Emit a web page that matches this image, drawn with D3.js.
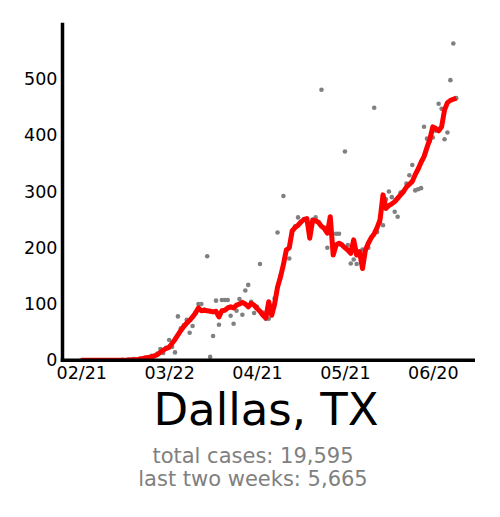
<!DOCTYPE html>
<html>
<head>
<meta charset="utf-8">
<script src="https://cdn.jsdelivr.net/npm/d3@7"></script>
<style>
  html, body { margin: 0; padding: 0; background: #fff; }
  svg { display: block; font-family: "DejaVu Sans", sans-serif; }
</style>
</head>
<body>
<svg id="chart" width="500" height="517"></svg>
<script>
// ---- data ----
const startDate = "2020-02-21";
const dailyCases = [
  0,0,0,0,0,0,0,0,0,0,0,0,0,
  0,1,0,1,0,2,1,3,2,5,4,8,7,12,20,13,22,
  36,24,14,78,57,62,72,49,61,85,
  100,100,90,185,6,43,106,63,107,107,
  107,79,65,88,109,81,124,134,104,84,
  95,171,85,74,74,90,110,227,150,292,
  196,181,230,238,254,245,251,250,218,250,
  254,245,481,236,200,250,190,225,225,205,
  371,205,172,179,171,190,197,196,200,218,
  449,228,245,240,286,300,290,264,255,298,
  300,314,329,347,302,304,306,415,394,390,
  396,408,456,447,393,405,498,563,466
];
const averageCases = [
  0,0,0,0,0,0,0,0,0,0,0,0,0,0,0,0,0.5,1,1,1,2,3,4,5,6,8,10,14,18,21,
  23,30,37,45,53,60,66,71,77,84,
  93,88,89,88,87,86,87,77,88,89,
  93,95,93,98,100,103,100,95,101,98,
  92,87,80,75,104,80,100,130,148,170,
  196,200,230,236,240,246,250,252,217,249,
  248,245,238,234,226,255,187,205,208,205,
  200,196,190,214,187,193,163,196,208,218,
  225,236,250,294,270,275,278,282,288,294,
  300,308,313,318,330,340,352,362,378,393,
  415,412,408,415,445,458,462,464,466
];
const xTickDates = ["2020-02-21", "2020-03-22", "2020-04-21", "2020-05-21", "2020-06-20"];
const yTicks = [0, 100, 200, 300, 400, 500];
const title = "Dallas, TX";
const subtitleLines = ["total cases: 19,595", "last two weeks: 5,665"];

// ---- layout ----
const parse = d3.utcParse("%Y-%m-%d");
const DAY = 24 * 3600 * 1000;
const t0 = parse(startDate);
const dates = dailyCases.map((_, i) => new Date(t0.getTime() + i * DAY));
const nDays = dailyCases.length - 1;
const xPad = nDays * 0.05;

const mLeft = 62.5, mRight = 475, mTop = 22.75, mBottom = 360.25;

const x = d3.scaleUtc()
  .domain([new Date(t0.getTime() - xPad * DAY), new Date(t0.getTime() + (nDays + xPad) * DAY)])
  .range([mLeft, mRight]);
const y = d3.scaleLinear().domain([0, 600]).range([mBottom, mTop]);

const svg = d3.select("#chart");

svg.append("defs").append("clipPath").attr("id", "plotclip")
  .append("rect").attr("x", mLeft).attr("y", mTop)
  .attr("width", mRight - mLeft).attr("height", mBottom - mTop);

const plot = svg.append("g").attr("clip-path", "url(#plotclip)");

plot.selectAll("circle.dot")
  .data(dailyCases)
  .join("circle")
  .attr("class", "dot")
  .attr("cx", (d, i) => x(dates[i]))
  .attr("cy", d => y(d))
  .attr("r", 2.3)
  .attr("fill", "#808080");

plot.append("path")
  .datum(averageCases)
  .attr("fill", "none")
  .attr("stroke", "#ff0000")
  .attr("stroke-width", 5)
  .attr("stroke-linejoin", "round")
  .attr("stroke-linecap", "butt")
  .attr("d", d3.line().x((d, i) => x(dates[i])).y(d => y(d)));

// axes
const xAxis = svg.append("g")
  .attr("transform", `translate(0,${mBottom})`)
  .call(d3.axisBottom(x)
    .tickValues(xTickDates.map(parse))
    .tickFormat(d3.utcFormat("%m/%d"))
    .tickSize(0).tickPadding(6));
xAxis.select(".domain").remove();
xAxis.selectAll("text").attr("font-size", 17.5).attr("fill", "#000")
  .attr("font-family", "DejaVu Sans");

const yAxis = svg.append("g")
  .attr("transform", `translate(${mLeft},0)`)
  .call(d3.axisLeft(y).tickValues(yTicks).tickSize(0).tickPadding(5));
yAxis.select(".domain").remove();
yAxis.selectAll("text").attr("font-size", 17.5).attr("fill", "#000")
  .attr("font-family", "DejaVu Sans");

// spines
svg.append("line").attr("x1", mLeft).attr("x2", mLeft)
  .attr("y1", mTop).attr("y2", mBottom + 1.75)
  .attr("stroke", "#000").attr("stroke-width", 3.5);
svg.append("line").attr("x1", mLeft - 1.75).attr("x2", mRight)
  .attr("y1", mBottom).attr("y2", mBottom)
  .attr("stroke", "#000").attr("stroke-width", 3.5);

// title & subtitle
svg.append("text")
  .attr("x", 266).attr("y", 425)
  .attr("text-anchor", "middle")
  .attr("font-size", 45).attr("fill", "#000")
  .text(title);

svg.selectAll("text.sub")
  .data(subtitleLines)
  .join("text")
  .attr("class", "sub")
  .attr("x", 253)
  .attr("y", (d, i) => 462.7 + i * 23.3)
  .attr("text-anchor", "middle")
  .attr("font-size", 21)
  .attr("fill", "#808080")
  .text(d => d);
</script>
</body>
</html>
